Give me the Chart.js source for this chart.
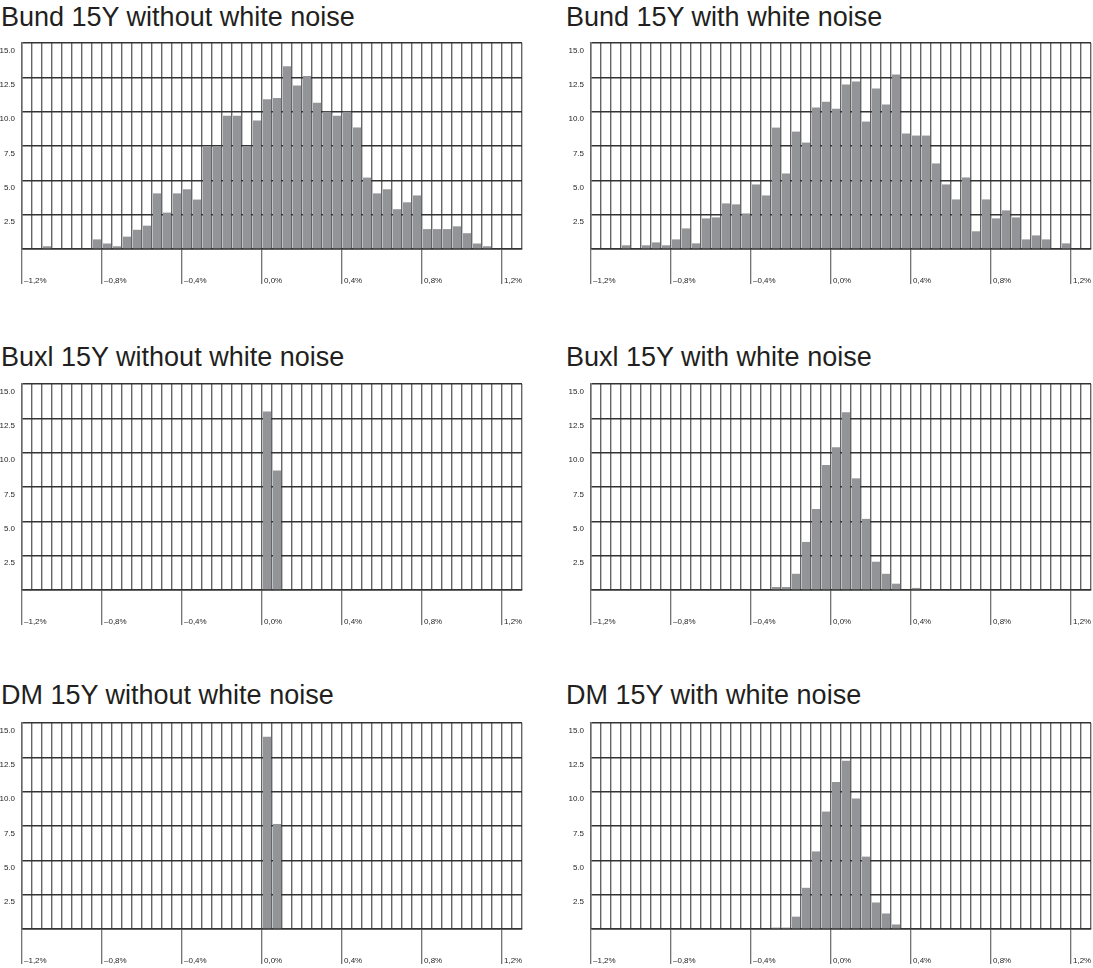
<!DOCTYPE html>
<html>
<head>
<meta charset="utf-8">
<script src="https://cdn.jsdelivr.net/npm/chart.js@4.4.1/dist/chart.umd.min.js"></script>
<style>
  html, body { margin: 0; padding: 0; background: #fff; overflow: hidden; width: 1093px; height: 968px; }
  .title {
    position: absolute;
    font-family: 'Liberation Sans', Arial, Helvetica, sans-serif;
    font-size: 27px;
    line-height: 27px;
    color: #231f20;
    white-space: nowrap;
  }
  canvas { position: absolute; }
</style>
</head>
<body>
<div class="title" style="left:1px;top:4px">Bund 15Y without white noise</div>
<div class="title" style="left:566px;top:4px">Bund 15Y with white noise</div>
<div class="title" style="left:1px;top:344px">Buxl 15Y without white noise</div>
<div class="title" style="left:566px;top:344px">Buxl 15Y with white noise</div>
<div class="title" style="left:1px;top:682px">DM 15Y without white noise</div>
<div class="title" style="left:566px;top:682px">DM 15Y with white noise</div>
<script>
// Histogram bins: 0.05 percentage points wide, from -1.2% to 1.3%
const BIN_START = -1.2;
const BIN_WIDTH = 0.05;
const BIN_COUNT = 50;
const binCenters = Array.from({ length: BIN_COUNT }, (_, i) => +(BIN_START + (i + 0.5) * BIN_WIDTH).toFixed(3));
const binEdges = Array.from({ length: BIN_COUNT + 1 }, (_, i) => +(BIN_START + i * BIN_WIDTH).toFixed(3));

// Labelled x ticks
const xTickValues = [-1.2, -0.8, -0.4, 0, 0.4, 0.8, 1.2];
const xTickLabels = ['\u20131,2%', '\u20130,8%', '\u20130,4%', '0,0%', '0,4%', '0,8%', '1,2%'];

// y ticks (frequency, %)
const yTickValues = [0, 2.5, 5, 7.5, 10, 12.5, 15];
const yTickLabels = ['', '2.5', '5.0', '7.5', '10.0', '12.5', '15.0'];

// Frequencies per bin (%), bins ordered from -1.2% upwards
const bundWithoutNoise = [
  0, 0, 0.2, 0, 0, 0, 0, 0.7, 0.4, 0.2,
  0.9, 1.4, 1.7, 4.05, 2.65, 4.05, 4.35, 3.6, 7.5, 7.5,
  9.7, 9.7, 7.45, 9.35, 10.9, 11.0, 13.3, 11.9, 12.6, 10.65,
  10.0, 9.7, 10.0, 8.85, 5.2, 4.05, 4.35, 2.9, 3.4, 3.9,
  1.45, 1.45, 1.45, 1.65, 1.15, 0.4, 0.2, 0, 0, 0
];
const bundWithNoise = [
  0, 0, 0, 0.27, 0, 0.27, 0.48, 0.27, 0.7, 1.5,
  0.41, 2.23, 2.3, 3.32, 3.25, 2.59, 4.7, 3.9, 8.84, 5.5,
  8.55, 7.75, 10.3, 10.73, 10.22, 11.97, 12.19, 9.28, 11.68, 10.52,
  12.7, 8.41, 8.26, 8.26, 6.23, 4.7, 3.61, 5.21, 1.29, 3.61,
  2.23, 2.81, 2.3, 0.7, 0.99, 0.7, 0, 0.41, 0, 0
];
const buxlWithoutNoise = [
  0, 0, 0, 0, 0, 0, 0, 0, 0, 0,
  0, 0, 0, 0, 0, 0, 0, 0, 0, 0,
  0, 0, 0, 0, 13.0, 8.7, 0, 0, 0, 0,
  0, 0, 0, 0, 0, 0, 0, 0, 0, 0,
  0, 0, 0, 0, 0, 0, 0, 0, 0, 0
];
const buxlWithNoise = [
  0, 0, 0, 0, 0, 0, 0, 0, 0, 0,
  0, 0, 0, 0, 0, 0, 0, 0, 0.22, 0.22,
  1.18, 3.5, 5.9, 9.1, 10.4, 12.95, 8.13, 5.18, 2.06, 1.18,
  0.46, 0, 0.15, 0, 0, 0, 0, 0, 0, 0,
  0, 0, 0, 0, 0, 0, 0, 0, 0, 0
];
const dmWithoutNoise = [
  0, 0, 0, 0, 0, 0, 0, 0, 0, 0,
  0, 0, 0, 0, 0, 0, 0, 0, 0, 0,
  0, 0, 0, 0, 14.0, 7.65, 0, 0, 0, 0,
  0, 0, 0, 0, 0, 0, 0, 0, 0, 0,
  0, 0, 0, 0, 0, 0, 0, 0, 0, 0
];
const dmWithNoise = [
  0, 0, 0, 0, 0, 0, 0, 0, 0, 0,
  0, 0, 0, 0, 0, 0, 0, 0, 0.1, 0.1,
  0.9, 3.0, 5.65, 8.55, 10.7, 12.25, 9.5, 5.27, 1.93, 1.13,
  0.33, 0, 0, 0, 0, 0, 0, 0, 0, 0,
  0, 0, 0, 0, 0, 0, 0, 0, 0, 0
];

const FONT_FAMILY = "'Liberation Sans', Arial, Helvetica, sans-serif";
const BAR_COLOR = '#939498';
const V_GRID = '#666666';
const H_GRID = '#333333';
const TEXT_COLOR = '#231f20';

const Y_AXIS_WIDTH = 22;
const PLOT_WIDTH = 500;
const PLOT_TOP_PAD = 14;
const X_AXIS_HEIGHT = 40;
const PLOT_HEIGHT = 206;

function tickLabelFor(value) {
  const i = xTickValues.findIndex(v => Math.abs(v - value) < 1e-6);
  return i >= 0 ? xTickLabels[i] : '';
}

function makeHistogram(values, left, plotTop, width) {
  const canvas = document.createElement('canvas');
  canvas.width = width;
  canvas.height = PLOT_TOP_PAD + PLOT_HEIGHT + X_AXIS_HEIGHT;
  canvas.style.left = left + 'px';
  canvas.style.top = (plotTop - PLOT_TOP_PAD) + 'px';
  document.body.appendChild(canvas);

  new Chart(canvas, {
    type: 'bar',
    data: {
      datasets: [{
        data: binCenters.map((x, i) => ({ x: x, y: values[i] })),
        backgroundColor: BAR_COLOR,
        borderWidth: 0,
        barPercentage: 0.8,
        categoryPercentage: 1
      }]
    },
    options: {
      responsive: false,
      animation: false,
      events: [],
      layout: { padding: { top: PLOT_TOP_PAD, right: width - Y_AXIS_WIDTH - PLOT_WIDTH, left: 0, bottom: 0 } },
      plugins: { legend: { display: false }, tooltip: { enabled: false } },
      scales: {
        x: {
          type: 'linear',
          min: binEdges[0],
          max: binEdges[binEdges.length - 1],
          offset: false,
          z: 1,
          afterBuildTicks: s => { s.ticks = binEdges.map(v => ({ value: v })); },
          afterFit: s => { s.height = X_AXIS_HEIGHT; },
          grid: {
            offset: false,
            color: V_GRID,
            lineWidth: 1.4,
            drawTicks: true,
            tickLength: 35,
            tickWidth: 1.2,
            tickColor: ctx => (ctx.tick && tickLabelFor(ctx.tick.value) !== '') ? V_GRID : 'rgba(0,0,0,0)'
          },
          border: { display: true, color: H_GRID, width: 1.4 },
          ticks: {
            autoSkip: false,
            maxRotation: 0,
            minRotation: 0,
            align: 'start',
            labelOffset: 2,
            padding: -8,
            color: TEXT_COLOR,
            font: { family: FONT_FAMILY, size: 8 },
            callback: v => tickLabelFor(v)
          }
        },
        y: {
          min: 0,
          max: 15,
          z: 1,
          afterBuildTicks: s => { s.ticks = yTickValues.map(v => ({ value: v })); },
          afterFit: s => { s.width = Y_AXIS_WIDTH; },
          grid: { color: H_GRID, lineWidth: 1.4, drawTicks: false },
          border: { display: true, color: V_GRID, width: 1.4 },
          ticks: {
            padding: 7,
            labelOffset: 7.5,
            color: TEXT_COLOR,
            font: { family: FONT_FAMILY, size: 8 },
            callback: (v, i) => yTickLabels[i]
          }
        }
      }
    }
  });
}

// left column: without white noise; right column: with white noise
makeHistogram(bundWithoutNoise, 0, 43, 540);
makeHistogram(bundWithNoise, 569, 43, 524);
makeHistogram(buxlWithoutNoise, 0, 384, 540);
makeHistogram(buxlWithNoise, 569, 384, 524);
makeHistogram(dmWithoutNoise, 0, 723, 540);
makeHistogram(dmWithNoise, 569, 723, 524);
</script>
</body>
</html>
